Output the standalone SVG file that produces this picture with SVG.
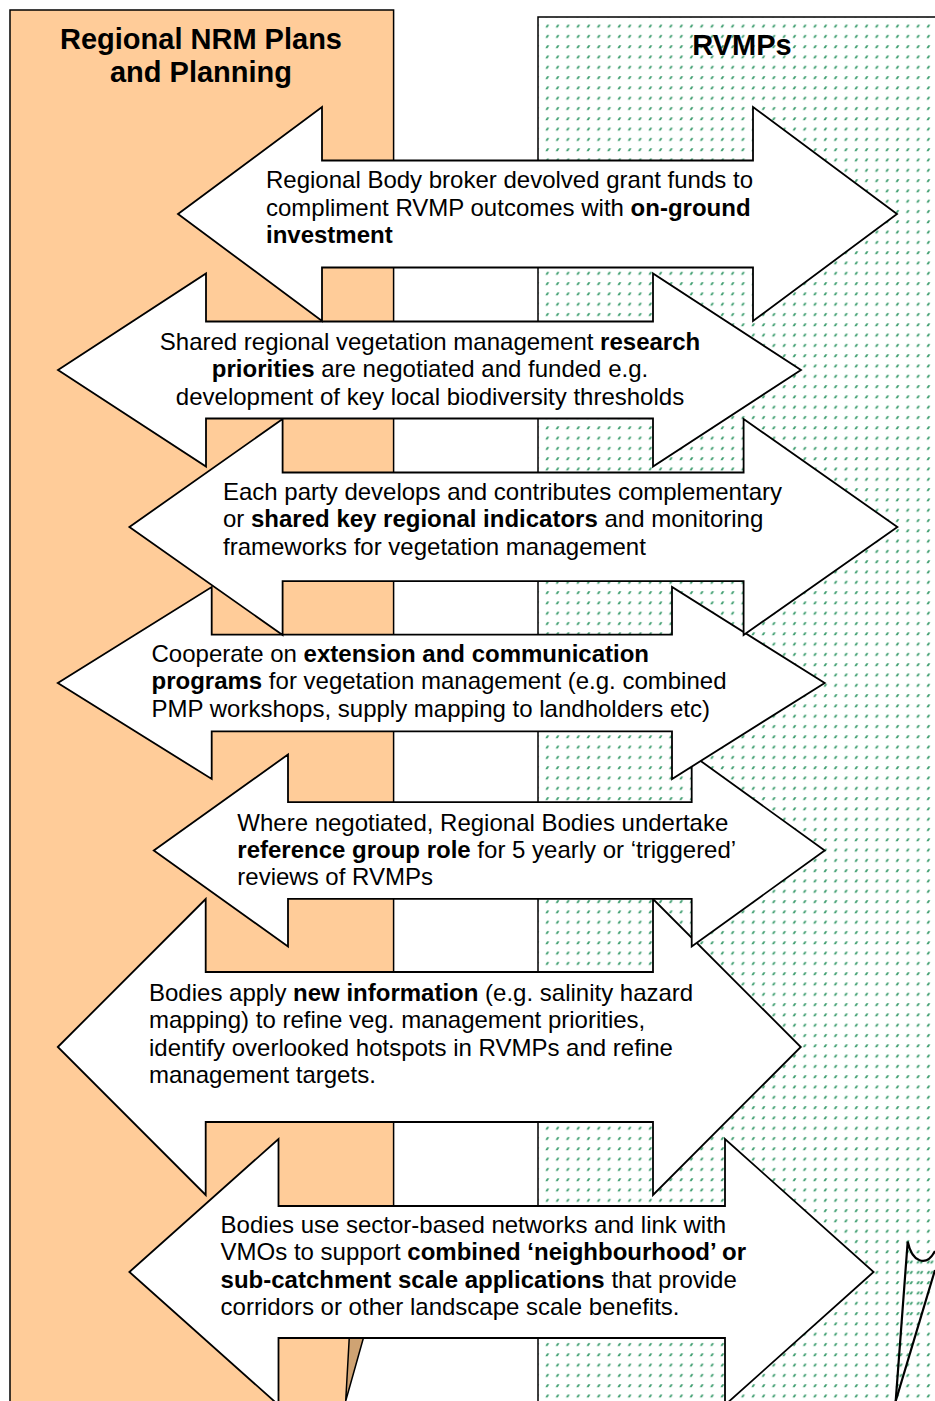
<svg xmlns="http://www.w3.org/2000/svg" width="935" height="1401" viewBox="0 0 935 1401">
<defs>
<style>
.arrow{fill:#ffffff;stroke:#000000;stroke-width:1.8;stroke-linejoin:miter}
.t{font-family:"Liberation Sans",Arial,sans-serif;font-size:24px;fill:#000000}
.b{font-weight:bold}
.title{font-family:"Liberation Sans",Arial,sans-serif;font-size:29px;font-weight:bold;fill:#000000}
.edge{fill:none;stroke:#000000;stroke-width:1.5}
</style>
<pattern id="dots" patternUnits="userSpaceOnUse" x="545" y="24.5" width="10.3" height="10.3">
<polygon points="0.3,3 2,0.3 4.2,0.3 2.5,3" fill="#3f9e70"/>
</pattern>
<pattern id="dots2" patternUnits="userSpaceOnUse" x="548.5" y="24.5" width="10.3" height="10.3">
<polygon points="0.3,3 2,0.3 4.2,0.3 2.5,3" fill="#3f9e70"/>
</pattern>
</defs>
<rect width="935" height="1401" fill="#ffffff"/>

<g id="regional-nrm-plans">
<path d="M10,10 H393.6 V1337 H349.3 L345.5,1410 H10 Z" fill="#ffcc99"/>
<path class="edge" d="M10,1405 V10 H393.6 V1337"/>
<polygon points="349.3,1337 363.7,1337 345.7,1401" fill="#cfa373" stroke="#000" stroke-width="1.5"/>
<text class="title" x="201" y="49" text-anchor="middle">Regional NRM Plans</text>
<text class="title" x="201" y="82" text-anchor="middle">and Planning</text>
</g>

<g id="rvmps">
<rect x="538" y="17" width="402" height="1395" fill="url(#dots)"/>
<path class="edge" d="M538,1405 V17 H940"/>
<path d="M907.7,1241.5 C912,1262 926,1268 935,1251 L935,1270 L895.7,1401 Z" fill="url(#dots2)"/>
<path d="M895.7,1401 L907.7,1241.5 C912,1262 926,1268 935,1251" fill="none" stroke="#000" stroke-width="2.2"/>
<path d="M935,1270 L895.7,1401" fill="none" stroke="#000" stroke-width="2.2"/>
<text class="title" x="742" y="55" text-anchor="middle">RVMPs</text>
</g>

<g id="connectors"></g>

<g id="arrow7">
<path class="arrow" d="M129.4,1272 L278.5,1139 L278.5,1206 L725,1206 L725,1139 L873.6,1272 L725,1405 L725,1338 L278.5,1338 L278.5,1405 Z"/>
<text class="t" x="220.6" y="1232.7">Bodies use sector-based networks and link with</text>
<text class="t" x="220.6" y="1260">VMOs to support <tspan class="b">combined ‘neighbourhood’ or</tspan></text>
<text class="t" x="220.6" y="1287.7"><tspan class="b">sub-catchment scale applications</tspan> that provide</text>
<text class="t" x="220.6" y="1315">corridors or other landscape scale benefits.</text>
</g>

<g id="arrow6">
<path class="arrow" d="M57.8,1047 L205.7,899 L205.7,972 L653,972 L653,899 L800.8,1047 L653,1195 L653,1122 L205.7,1122 L205.7,1195 Z"/>
<text class="t" x="149" y="1000.7">Bodies apply <tspan class="b">new information</tspan> (e.g. salinity hazard</text>
<text class="t" x="149" y="1028">mapping) to refine veg. management priorities,</text>
<text class="t" x="149" y="1055.5">identify overlooked hotspots in RVMPs and refine</text>
<text class="t" x="149" y="1083">management targets.</text>
</g>

<g id="arrow5">
<path class="arrow" d="M153.8,850.5 L288,754.5 L288,802.2 L691.7,802.2 L691.7,754.5 L824.7,850.5 L691.7,946.5 L691.7,898.8 L288,898.8 L288,946.5 Z"/>
<text class="t" x="237.3" y="830.7">Where negotiated, Regional Bodies undertake</text>
<text class="t" x="237.3" y="858"><tspan class="b">reference group role</tspan> for 5 yearly or ‘triggered’</text>
<text class="t" x="237.3" y="885">reviews of RVMPs</text>
</g>

<g id="arrow4">
<path class="arrow" d="M57.8,683 L211.7,587 L211.7,634.7 L672,634.7 L672,587 L824.7,683 L672,779 L672,731.3 L211.7,731.3 L211.7,779 Z"/>
<text class="t" x="151.5" y="661.7">Cooperate on <tspan class="b">extension and communication</tspan></text>
<text class="t" x="151.5" y="689.3"><tspan class="b">programs</tspan> for vegetation management (e.g. combined</text>
<text class="t" x="151.5" y="716.7">PMP workshops, supply mapping to landholders etc)</text>
</g>

<g id="arrow3">
<path class="arrow" d="M129.4,527 L282.6,419 L282.6,472.5 L743.6,472.5 L743.6,419 L897.4,527 L743.6,635 L743.6,581.2 L282.6,581.2 L282.6,635 Z"/>
<text class="t" x="223" y="499.5">Each party develops and contributes complementary</text>
<text class="t" x="223" y="527">or <tspan class="b">shared key regional indicators</tspan> and monitoring</text>
<text class="t" x="223" y="554.5">frameworks for vegetation management</text>
</g>

<g id="arrow2">
<path class="arrow" d="M58,370 L206,273.5 L206,321.5 L653,321.5 L653,273.5 L801,370 L653,466.5 L653,418.5 L206,418.5 L206,466.5 Z"/>
<text class="t" x="430" y="349.5" text-anchor="middle">Shared regional vegetation management <tspan class="b">research</tspan></text>
<text class="t" x="430" y="377" text-anchor="middle"><tspan class="b">priorities</tspan> are negotiated and funded e.g.</text>
<text class="t" x="430" y="404.5" text-anchor="middle">development of key local biodiversity thresholds</text>
</g>

<g id="arrow1">
<path class="arrow" d="M178,214 L322,107 L322,160.5 L753,160.5 L753,107 L897,214 L753,321 L753,267.5 L322,267.5 L322,321 Z"/>
<text class="t" x="266" y="188">Regional Body broker devolved grant funds to</text>
<text class="t" x="266" y="215.5">compliment RVMP outcomes with <tspan class="b">on-ground</tspan></text>
<text class="t" x="266" y="243"><tspan class="b">investment</tspan></text>
</g>
</svg>
